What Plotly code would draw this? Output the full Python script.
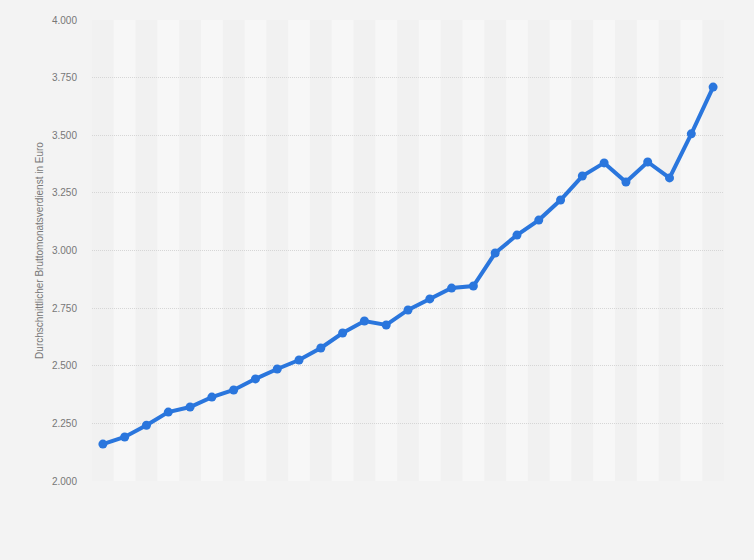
import plotly.graph_objects as go

categories = list(range(29))
values = [2160, 2191, 2242, 2299, 2321, 2364, 2395, 2443, 2486, 2525,
          2577, 2642, 2694, 2677, 2742, 2790, 2837, 2846, 2989, 3067,
          3132, 3219, 3323, 3380, 3297, 3384, 3315, 3506, 3709]
y_ticks = [2000, 2250, 2500, 2750, 3000, 3250, 3500, 3750, 4000]
y_title = "Durchschnittlicher Bruttomonatsverdienst in Euro"

fig = go.Figure()

shapes = []
for i in categories:
    if i % 2 == 1:
        shapes.append(dict(type="rect", xref="x", yref="paper",
                           x0=i - 0.5, x1=i + 0.5, y0=0, y1=1,
                           fillcolor="#f7f7f7", line=dict(width=0), layer="below"))

fig.add_trace(go.Scatter(
    x=categories, y=values, mode="lines+markers",
    line=dict(color="#2a76dd", width=4),
    marker=dict(color="#2a76dd", size=9),
    hoverinfo="skip", showlegend=False,
))

fig.update_layout(
    width=754, height=560, autosize=False,
    margin=dict(l=92, r=30, t=20, b=79),
    paper_bgcolor="#f3f3f3", plot_bgcolor="#f1f1f1",
    separators=",.",
    shapes=shapes,
    font=dict(family="Arial, Liberation Sans, sans-serif", color="#666666", size=10),
    xaxis=dict(range=[-0.5, 28.5], showticklabels=False, showgrid=False,
               zeroline=False, showline=False, ticks=""),
    yaxis=dict(range=[2000, 4000], tickvals=y_ticks, tickformat=",.0f",
               showgrid=True, gridcolor="#d6d6d6", griddash="1px,1px", gridwidth=1,
               zeroline=False, showline=False, ticklabelstandoff=14,
               tickfont=dict(size=10, color="#777777"),
               title=dict(text=y_title, font=dict(size=10, color="#777777"), standoff=6)),
)

fig.write_html("out.html", config={"displayModeBar": False},
               post_script="document.body.style.margin='0';document.body.style.background='#f3f3f3';")
